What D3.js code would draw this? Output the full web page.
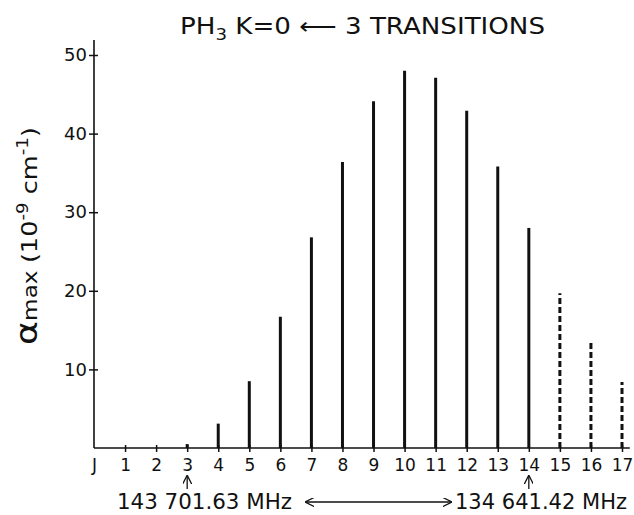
<!DOCTYPE html>
<html>
<head>
<meta charset="utf-8">
<script src="https://cdn.jsdelivr.net/npm/d3@7"></script>
<style>
  html, body { margin: 0; padding: 0; background: #fff; }
  svg { display: block; font-family: "DejaVu Sans", sans-serif; }
</style>
</head>
<body>
<div id="chart"></div>
<script>
// PH3 K=0 <- 3 transitions: peak absorption per J line.

// -------------------------------------------------------------
// Data
// -------------------------------------------------------------
const J_TICKS = [0, 1, 2, 3, 4, 5, 6, 7, 8, 9, 10, 11, 12, 13, 14, 15, 16, 17];
const J_TICK_LABELS = ["J", "1", "2", "3", "4", "5", "6", "7", "8", "9",
  "10", "11", "12", "13", "14", "15", "16", "17"];

const LINE_J = [3, 4, 5, 6, 7, 8, 9, 10, 11, 12, 13, 14, 15, 16, 17];
const ALPHA_MAX = [0.5, 3.1, 8.5, 16.7, 26.8, 36.4, 44.1, 48.0, 47.1, 42.9, 35.8, 28.0, 19.7, 13.4, 8.4];
const UNMEASURED_J = [15, 16, 17];   // drawn dashed

const Y_TICKS = [10, 20, 30, 40, 50];

const FREQ_J = [3, 14];
const FREQ_LABELS = ["143 701.63 MHz", "134 641.42 MHz"];

// -------------------------------------------------------------
// Layout
// -------------------------------------------------------------
const width = 634;
const height = 515;

const svg = d3.select("#chart").append("svg")
  .attr("width", width)
  .attr("height", height);

const x = d3.scaleLinear().domain([0, 17]).range([94, 622]);
const y = d3.scaleLinear().domain([0, 50]).range([448, 55]);

const ink = "#111";

// -------------------------------------------------------------
// Axes
// -------------------------------------------------------------
// y axis: line + cross ticks
const yAxis = svg.append("g")
  .attr("transform", `translate(${x(0)},0)`)
  .call(d3.axisLeft(y).tickValues(Y_TICKS).tickSizeInner(5).tickSizeOuter(0).tickPadding(2));
yAxis.select(".domain").remove();
yAxis.selectAll(".tick line").attr("x2", -5).attr("x1", 4).attr("stroke", ink).attr("stroke-width", 1.5);
yAxis.selectAll(".tick text")
  .attr("fill", ink)
  .style("font-size", "18px")
  .style("font-family", "'DejaVu Sans', sans-serif");

svg.append("line")
  .attr("x1", x(0)).attr("x2", x(0))
  .attr("y1", y(51.9)).attr("y2", y(0))
  .attr("stroke", ink).attr("stroke-width", 1.6);

// x axis
const xAxis = svg.append("g")
  .attr("transform", `translate(0,${y(0)})`)
  .call(d3.axisBottom(x).tickValues(J_TICKS).tickSizeInner(4).tickSizeOuter(0).tickPadding(7)
    .tickFormat((d, i) => J_TICK_LABELS[i]));
xAxis.select(".domain").remove();
xAxis.selectAll(".tick line").attr("y1", -3).attr("stroke", ink).attr("stroke-width", 1.5);
xAxis.selectAll(".tick").filter(d => d === 0).select("line").remove();
xAxis.selectAll(".tick text")
  .attr("fill", ink)
  .style("font-size", "17px")
  .style("font-family", "'DejaVu Sans', sans-serif");

svg.append("line")
  .attr("x1", x(0)).attr("x2", x(17.25))
  .attr("y1", y(0)).attr("y2", y(0))
  .attr("stroke", ink).attr("stroke-width", 1.6);

// -------------------------------------------------------------
// Lines (one stick per J)
// -------------------------------------------------------------
const sticks = LINE_J.map((j, i) => ({ j, v: ALPHA_MAX[i] }));

svg.append("g").selectAll("line")
  .data(sticks)
  .join("line")
  .attr("x1", d => x(d.j)).attr("x2", d => x(d.j))
  .attr("y1", y(0)).attr("y2", d => y(d.v))
  .attr("stroke", ink)
  .attr("stroke-width", 3)
  .attr("stroke-dasharray", d => UNMEASURED_J.includes(d.j) ? "6,3" : null);

// -------------------------------------------------------------
// Frequency markers under J=3 and J=14
// -------------------------------------------------------------
const defs = svg.append("defs");
defs.append("marker")
  .attr("id", "head")
  .attr("viewBox", "0 0 10 10")
  .attr("refX", 9).attr("refY", 5)
  .attr("markerWidth", 9).attr("markerHeight", 9)
  .attr("markerUnits", "userSpaceOnUse")
  .attr("orient", "auto-start-reverse")
  .append("path")
  .attr("d", "M0,0 L10,5 L0,10")
  .attr("fill", "none")
  .attr("stroke", ink)
  .attr("stroke-width", 1.4);

svg.append("g").selectAll("line")
  .data(FREQ_J)
  .join("line")
  .attr("x1", d => x(d)).attr("x2", d => x(d))
  .attr("y1", 489).attr("y2", 476)
  .attr("stroke", ink).attr("stroke-width", 1.3)
  .attr("marker-end", "url(#head)");

svg.append("text")
  .attr("x", 117).attr("y", 509)
  .attr("textLength", 175).attr("lengthAdjust", "spacingAndGlyphs")
  .attr("fill", ink)
  .style("font-size", "21px")
  .text(FREQ_LABELS[0]);

svg.append("text")
  .attr("x", 455).attr("y", 509)
  .attr("textLength", 172).attr("lengthAdjust", "spacingAndGlyphs")
  .attr("fill", ink)
  .style("font-size", "21px")
  .text(FREQ_LABELS[1]);

svg.append("line")
  .attr("x1", 306).attr("x2", 451)
  .attr("y1", 502).attr("y2", 502)
  .attr("stroke", ink).attr("stroke-width", 1.3)
  .attr("marker-start", "url(#head)")
  .attr("marker-end", "url(#head)");

// -------------------------------------------------------------
// Titles
// -------------------------------------------------------------
const title = svg.append("text")
  .attr("x", 180).attr("y", 34)
  .attr("fill", ink)
  .style("font-size", "23px");
title.append("tspan").text("PH");
title.append("tspan").attr("dy", 6).style("font-size", "16px").text("3");
title.append("tspan").attr("dy", -6).text("  K=0 \u27F5 3  TRANSITIONS");
title.attr("textLength", 365).attr("lengthAdjust", "spacingAndGlyphs");

const yTitle = svg.append("text")
  .attr("transform", "translate(37,236) rotate(-90)")
  .attr("text-anchor", "middle")
  .attr("fill", ink)
  .style("font-size", "21px");
yTitle.append("tspan").style("font-size", "30px").text("\u03B1");
yTitle.append("tspan").style("font-size", "19px").text("max ");
yTitle.append("tspan").text("(10");
yTitle.append("tspan").attr("dy", -9).style("font-size", "15px").text("-9");
yTitle.append("tspan").attr("dy", 9).text(" cm");
yTitle.append("tspan").attr("dy", -9).style("font-size", "15px").text("-1");
yTitle.append("tspan").attr("dy", 9).text(")");
yTitle.attr("textLength", 218).attr("lengthAdjust", "spacingAndGlyphs");
</script>
</body>
</html>
